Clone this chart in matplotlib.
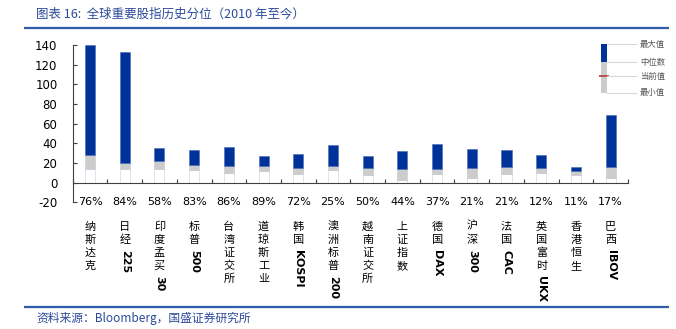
import matplotlib
matplotlib.use("Agg")
import matplotlib.pyplot as plt
import numpy as np

plt.rcParams['font.family'] = ['Noto Sans CJK SC', 'DejaVu Sans']
plt.rcParams['axes.unicode_minus'] = False

# 全球主要股指 2010 年以来估值分位
names = ['纳斯达克', '日经225', '印度孟买30', '标普500', '台湾证交所', '道琼斯工业',
         '韩国KOSPI', '澳洲标普200', '越南证交所', '上证指数', '德国DAX', '沪深300',
         '法国CAC', '英国富时UKX', '香港恒生', '巴西IBOV']
pct = ['76%', '84%', '58%', '83%', '86%', '89%', '72%', '25%',
       '50%', '44%', '37%', '21%', '21%', '12%', '11%', '17%']
min_val = [14, 14, 14.3, 12.6, 9.5, 11.9, 8.8, 12.6, 8.2, 2.8, 8.8, 5.1, 8.8, 9.9, 8.2, 5.1]
med_val = [28.5, 20, 21.7, 18.3, 17, 16.6, 15, 17, 15, 14.3, 14.3, 15, 15.6, 15, 11.6, 15.6]
max_val = [140, 132.6, 35.3, 32.9, 36.2, 26.8, 29.2, 38.6, 27.1, 31.9, 39, 33.9, 33.2, 27.8, 15.6, 68.5]

BLUE = '#003399'
GREY = '#CCCCCC'
TXT_BLUE = '#2B4A9B'

W, H = 676, 329
fig = plt.figure(figsize=(W / 100, H / 100), dpi=100)
ax = fig.add_axes([72.7 / W, 1 - 202.4 / H, (628 - 72.7) / W, (202.4 - 45) / H])

x = np.arange(len(names)) + 0.5
mins = np.array(min_val)
meds = np.array(med_val)
maxs = np.array(max_val)
bw = 0.29
ax.bar(x, mins, bw, color='white', edgecolor='#D9DEE8', linewidth=0.6, zorder=2)
ax.bar(x, meds - mins, bw, bottom=mins, color=GREY, edgecolor='#C4C8D0', linewidth=0.4, zorder=2)
ax.bar(x, maxs - meds, bw, bottom=meds, color=BLUE, edgecolor='#4A68B8', linewidth=0.4, zorder=2)

ax.set_xlim(0, len(names))
ax.set_ylim(-20, 140)
ax.set_yticks(np.arange(-20, 141, 20))
ax.tick_params(axis='y', direction='in', length=3, width=0.8, labelsize=8.5, pad=11, colors='#404040', labelcolor='black')
ax.spines['top'].set_visible(False)
ax.spines['right'].set_visible(False)
ax.spines['left'].set_color('#404040')
ax.spines['left'].set_linewidth(0.8)
ax.spines['bottom'].set_position(('data', 0))
ax.spines['bottom'].set_color('#404040')
ax.spines['bottom'].set_linewidth(0.8)
ax.set_xticks(np.arange(0, len(names) + 1))
ax.tick_params(axis='x', direction='in', length=3, width=0.8, colors='#404040', labelbottom=False)
for t in ax.get_yticklabels():
    t.set_family('DejaVu Sans')

# 分位数标签
for xi, p in zip(x, pct):
    ax.text(xi, -20, p, ha='center', va='center', fontsize=8, family='DejaVu Sans')

# 竖排指数名称：汉字逐字堆叠，字母数字旋转
step = 13 * 0.72
for xi, name in zip(x, names):
    off = 24.3 * 0.72
    i = 0
    while i < len(name):
        ch = name[i]
        if ord(ch) > 0x2E80:
            ax.annotate(ch, xy=(xi, -20), xytext=(0, -off), textcoords='offset points',
                        ha='center', va='center', fontsize=8, annotation_clip=False)
            off += step
            i += 1
        else:
            j = i
            while j < len(name) and ord(name[j]) <= 0x2E80:
                j += 1
            ax.annotate(name[i:j], xy=(xi, -20), xytext=(0, -(off - step / 2 + 3)),
                        textcoords='offset points', ha='center', va='top', rotation=-90,
                        fontsize=8, weight='bold', family='DejaVu Sans', annotation_clip=False)
            i = j

# 页面装饰层（像素坐标）
deco = fig.add_axes([0, 0, 1, 1], facecolor='none')
deco.set_xlim(0, W)
deco.set_ylim(H, 0)
deco.axis('off')

deco.text(36, 14, '图表 16:  全球重要股指历史分位（2010 年至今）', color=TXT_BLUE,
          fontsize=9, style='italic', ha='left', va='center')
deco.plot([24, 669], [28.3, 28.3], color='#2F5CAA', lw=1.6, solid_capstyle='butt')
deco.plot([24, 669], [306.7, 306.7], color='#2F5CAA', lw=1.6, solid_capstyle='butt')
deco.text(36, 318, '资料来源：Bloomberg，国盛证券研究所', color=TXT_BLUE,
          fontsize=8.5, style='italic', ha='left', va='center')

# 图例
lg_y = {'最大值': 44, '中位数': 62, '当前值': 76, '最小值': 93}
deco.add_patch(plt.Rectangle((601, 62), 6, 31, facecolor=GREY, edgecolor='none'))
deco.add_patch(plt.Rectangle((601, 44), 6, 18, facecolor=BLUE, edgecolor='none'))
deco.plot([600, 608], [76, 76], color='#C0504D', lw=1.4)
for lab, yy in lg_y.items():
    deco.plot([607, 636], [yy, yy], color='#D6D6D6', lw=0.8)
    deco.text(640, yy, lab, fontsize=6, color='#555555', ha='left', va='center')

fig.savefig('out.png', dpi=100)
